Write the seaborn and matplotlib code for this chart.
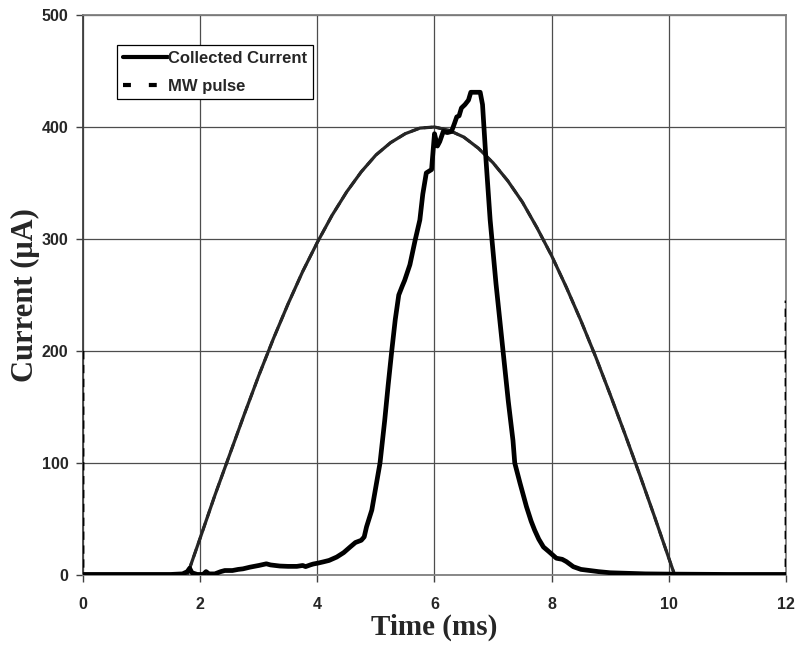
import matplotlib
matplotlib.use("Agg")
import matplotlib.pyplot as plt
import seaborn as sns
from matplotlib.lines import Line2D

# Collected current trace (time in ms, current in µA)
cc_time = [0.0, 0.5, 1.0, 1.5, 1.7, 1.78, 1.82, 1.86, 1.95, 2.05, 2.1, 2.15, 2.25,
           2.35, 2.42, 2.55, 2.65, 2.73, 2.85, 3.0, 3.13, 3.2, 3.36, 3.5, 3.65, 3.75,
           3.8, 3.88, 3.93, 4.0, 4.1, 4.2, 4.33, 4.45, 4.56, 4.65, 4.75, 4.8, 4.84,
           4.93, 5.01, 5.07, 5.15, 5.21, 5.27, 5.33, 5.39, 5.45, 5.49, 5.58, 5.67,
           5.75, 5.8, 5.86, 5.95, 6.0, 6.05, 6.09, 6.15, 6.22, 6.29, 6.34, 6.38,
           6.42, 6.46, 6.52, 6.58, 6.62, 6.78, 6.82, 6.88, 6.95, 7.05, 7.17, 7.26,
           7.34, 7.37, 7.46, 7.57, 7.65, 7.71, 7.78, 7.86, 7.95, 8.08, 8.18, 8.25,
           8.37, 8.5, 8.65, 8.8, 9.0, 9.3, 9.6, 10.0, 11.0, 12.0]
cc_current = [0.5, 0.5, 0.5, 0.5, 1, 3, 6, 2, 0.5, 0.5, 3, 1, 1,
              3, 4, 4, 5, 5.5, 7, 8.5, 10, 9, 8, 7.7, 7.7, 8.5,
              7.5, 9, 9.8, 10.5, 11.7, 13, 16, 20, 25, 29, 31, 34, 43,
              58, 82, 100, 138, 170, 200, 228, 250, 258, 263, 277, 299,
              317, 340, 359, 362, 394, 383, 387, 396, 395, 396, 403, 409,
              410, 417, 420, 424, 431, 431, 420, 370, 317, 260, 200, 155,
              120, 100, 82, 61, 48, 40, 32, 25, 21, 15, 14, 12,
              7.4, 5, 4, 3, 2, 1.5, 1, 0.8, 0.5, 0.5]

# Microwave pulse envelope (same axes)
mw_time = [0.0, 0.0, 1.78, 2.0, 2.25, 2.5, 2.75, 3.0, 3.25, 3.5, 3.75, 4.0, 4.25,
           4.5, 4.75, 5.0, 5.25, 5.5, 5.75, 6.0, 6.25, 6.5, 6.75, 7.0, 7.25, 7.5,
           7.75, 8.0, 8.25, 8.5, 8.75, 9.0, 9.25, 9.5, 9.75, 10.0, 10.1, 12.0, 12.0]
mw_level = [200, 0, 0, 33, 71, 107, 143, 178, 211, 242, 271, 297, 321,
            342, 360, 375, 386, 394, 399, 400, 397, 391, 381, 368, 352, 333,
            310, 285, 257, 227, 195, 161, 126, 90, 53, 15, 0, 0, 245]

x_ticks = [0, 2, 4, 6, 8, 10, 12]
y_ticks = [0, 100, 200, 300, 400, 500]

sns.set_theme(style="white")
plt.rcParams["font.family"] = ["Liberation Sans", "DejaVu Sans"]

fig = plt.figure(figsize=(7.99, 6.52), dpi=100)
ax = fig.add_axes([0.1039, 0.1181, 0.8798, 0.8589])

# microwave pulse: dashed series, envelope overdrawn densely so it reads as a solid trace
sns.lineplot(x=mw_time, y=mw_level, ax=ax, color="black", linewidth=2.0,
             linestyle=(0, (3, 2)), sort=False, estimator=None, zorder=3)
ax.plot(mw_time[1:-1], mw_level[1:-1], color="#262626", linewidth=2.3,
        solid_capstyle="butt", zorder=3)

# collected current
sns.lineplot(x=cc_time, y=cc_current, ax=ax, color="black", linewidth=3.4,
             sort=False, estimator=None, zorder=4)

ax.set_xlim(0, 12)
ax.set_ylim(0, 500)
ax.set_xticks(x_ticks)
ax.set_yticks(y_ticks)
ax.set_xticklabels([str(v) for v in x_ticks], fontweight="bold", fontsize=11.5)
ax.set_yticklabels([str(v) for v in y_ticks], fontweight="bold", fontsize=11.5)

ax.grid(True, color="#4d4d4d", linewidth=0.9)
ax.set_axisbelow(True)
for side in ["top", "right", "left", "bottom"]:
    ax.spines[side].set_visible(True)
    ax.spines[side].set_color("#7f7f7f")
    ax.spines[side].set_linewidth(1.3)
ax.spines["left"].set_color("#404040")

ax.tick_params(axis="both", which="major", direction="out", length=5, width=1,
               color="#404040", left=True, bottom=True, top=False, right=False)
ax.tick_params(axis="y", pad=5.5)
ax.tick_params(axis="x", pad=11)

ax.set_xlabel("Time (ms)", family=["Liberation Serif", "DejaVu Serif"],
              fontweight="bold", fontsize=21, labelpad=1)
ax.set_ylabel("Current (\u03bcA)", family=["Liberation Serif", "DejaVu Serif"],
              fontweight="bold", fontsize=22, labelpad=1)

handles = [
    Line2D([], [], color="black", linewidth=3.0),
    Line2D([], [], color="black", linewidth=3.0, linestyle=(0, (1.9, 4.3))),
]
leg = ax.legend(handles, ["Collected Current", "MW pulse"], loc="upper left",
                bbox_to_anchor=(0.048, 0.946), frameon=True, fancybox=False,
                edgecolor="black", framealpha=1, handlelength=2.7,
                handletextpad=0.05, borderpad=0.35, labelspacing=0.75,
                borderaxespad=0, prop={"weight": "bold", "size": 12})
leg.get_frame().set_linewidth(0.9)

fig.savefig("out.png", dpi=100)
